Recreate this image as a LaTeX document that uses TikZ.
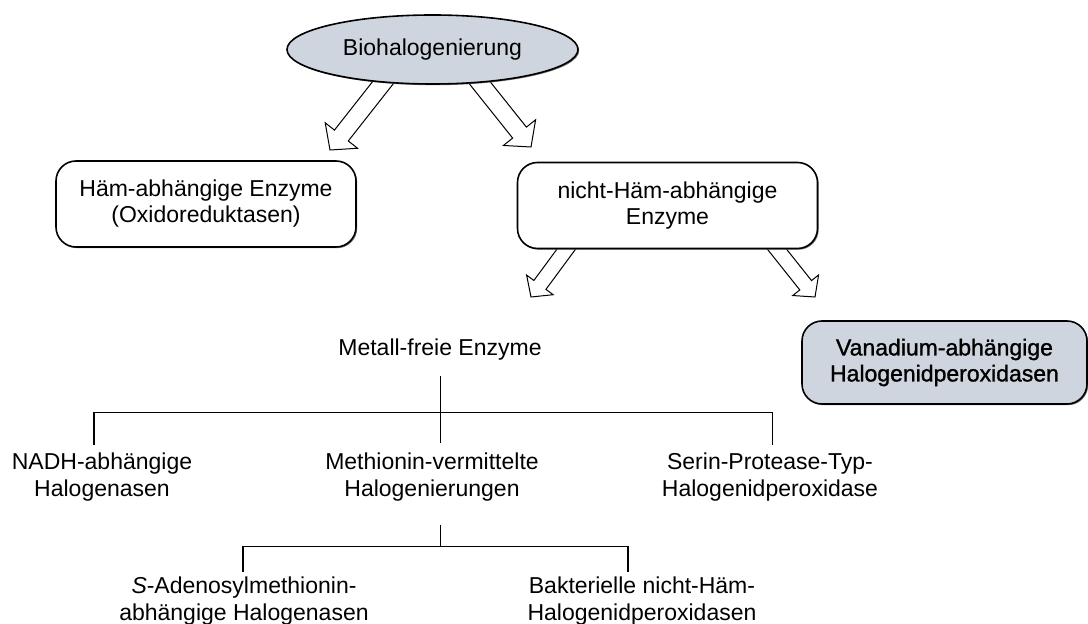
\documentclass[tikz,border=0pt]{standalone}
\usepackage{fontspec}
\setmainfont{Liberation Sans}
\newfontfamily\fakebf[FakeBold=1.2]{Liberation Sans}
\usetikzlibrary{shapes.geometric,calc,shadows,backgrounds}
\definecolor{hlgray}{RGB}{206,213,222}
\newcommand\blockarr[5]{%
  \coordinate (bah) at ($(#2)!#5!(#1)$);
  \draw[barrow] ($(#1)!#3!90:(#2)$) -- ($(bah)!#3!90:(#2)$) -- ($(bah)!#4!90:(#2)$) -- (#2)
     -- ($(bah)!#4!-90:(#2)$) -- ($(bah)!#3!-90:(#2)$) -- ($(#1)!#3!-90:(#2)$) -- cycle;}
\begin{document}
\begin{tikzpicture}[x=0.5pt,y=-0.5pt,
  txt/.style={font=\fontsize{11.5}{13}\selectfont},
  lbl/.style={align=center, inner sep=0pt, font=\fontsize{11.5}{13.5}\selectfont},
  shad/.style={drop shadow={shadow xshift=0.6pt, shadow yshift=-0.6pt, fill=black!55, opacity=1}},
  box/.style={draw, line width=0.8pt, rounded corners=10pt, fill=white, align=center, inner sep=0pt,
              minimum width=150pt, minimum height=43pt, txt, shad},
  barrow/.style={draw, fill=white, line width=0.5pt, line join=miter},
  tree/.style={line width=0.8pt}]
\useasboundingbox (0,0) rectangle (1088,624);

% top ellipse
\node[ellipse, draw, line width=0.8pt, fill=hlgray, minimum width=145.5pt, minimum height=34.5pt,
      inner sep=0pt, txt, shad] (bio) at (432.5,49.5) {Biohalogenierung};

% level 1 boxes
\node[box] (haem) at (206,204) {Häm-abhängige Enzyme\\(Oxidoreduktasen)};
\node[box] (nicht) at (667.5,205.5) {nicht-Häm-abhängige\\Enzyme};

% vanadium box
\node[box, fill=hlgray, minimum width=142.5pt, minimum height=41.5pt, font=\fontsize{11.5}{13}\selectfont\fakebf]
  (van) at (944.5,362.5) {Vanadium-abhängige\\Halogenidperoxidasen};

% block arrows (behind nodes)
\coordinate (a1s) at (389,75);   \coordinate (a1t) at (330,150);
\coordinate (a2s) at (473.3,74.7); \coordinate (a2t) at (531,147);
\coordinate (a3s) at (573.4,239.5); \coordinate (a3t) at (531,297);
\coordinate (a4s) at (769.8,240.2); \coordinate (a4t) at (815,297);
\begin{scope}[on background layer]
  \blockarr{a1s}{a1t}{4.4pt}{10.3pt}{9.2pt}
  \blockarr{a2s}{a2t}{4.4pt}{10.3pt}{9.2pt}
  \blockarr{a3s}{a3t}{3.75pt}{8.25pt}{7.5pt}
  \blockarr{a4s}{a4t}{3.75pt}{8.25pt}{7.5pt}
\end{scope}

% tree texts
\node[lbl] (metall) at (440,350) {Metall-freie Enzyme};
\node[lbl] (nadh) at (102,477) {NADH-abhängige\\Halogenasen};
\node[lbl] (methi) at (432,477) {Methionin-vermittelte\\Halogenierungen};
\node[lbl] (serin) at (770,477) {Serin-Protease-Typ-\\Halogenidperoxidase};
\node[lbl] (sadeno) at (244,601.5) {\textit{S}-Adenosylmethionin-\\abhängige Halogenasen};
\node[lbl] (bakt) at (642,601.5) {Bakterielle nicht-Häm-\\Halogenidperoxidasen};

% tree connectors
\coordinate (m0) at (440.6,376);
\coordinate (eM) at (440.6,443);
\coordinate (mL) at (93.7,412.7);
\coordinate (mR) at (772.4,412.7);
\coordinate (eL) at (93.7,445);
\coordinate (eR) at (772.4,445);
\draw[tree] (m0) -- (eM);
\draw[tree] (eL) -- (mL) -- (mR) -- (eR);

\coordinate (n0) at (440.6,525);
\coordinate (n1) at (440.6,546.7);
\coordinate (nL) at (243,546.7);
\coordinate (nR) at (628,546.7);
\coordinate (fL) at (243,571.7);
\coordinate (fR) at (628,571.7);
\draw[tree] (n0) -- (n1);
\draw[tree] (fL) -- (nL) -- (nR) -- (fR);
\end{tikzpicture}
\end{document}
